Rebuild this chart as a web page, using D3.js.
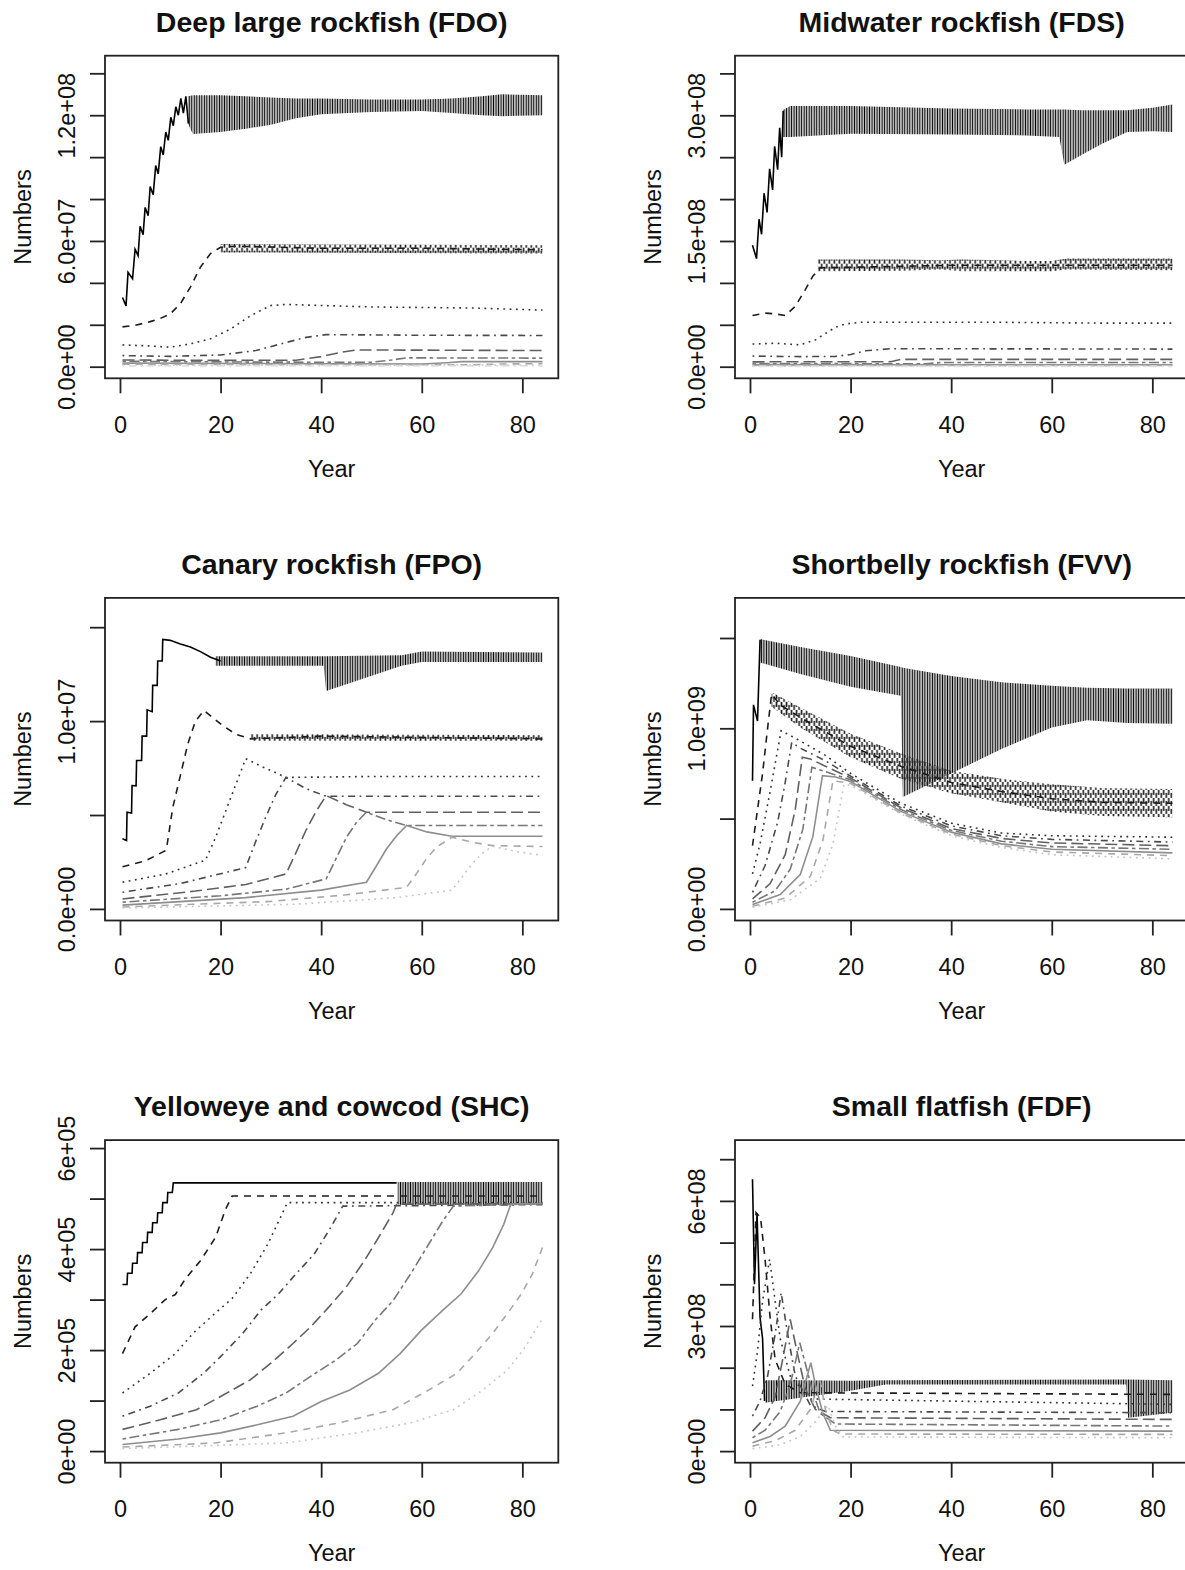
<!DOCTYPE html>
<html>
<head>
<meta charset="utf-8">
<script src="https://cdn.jsdelivr.net/npm/d3@7"></script>
<style>
  body { margin: 0; background: #fff; }
  svg { display: block; }
  svg text { font-family: "Liberation Sans", Arial, sans-serif; fill: #111; }
</style>
</head>
<body>
<svg id="chart"></svg>
<script>
// ---- data ---------------------------------------------------------------
// every line is one age class, [year, value]; bands are [year, low, high]
// for the stretches where a line zigzags every year
var xTicks = [0, 20, 40, 60, 80];
var xLimits = [-2.98, 87.15];

// Deep large rockfish (FDO), values in 1e6
var fdoTicks = [0, 2e7, 4e7, 6e7, 8e7, 1e8, 1.2e8, 1.4e8];
var fdoTickText = ["0.0e+00", "", "", "6.0e+07", "", "", "1.2e+08", ""];
var fdoLines = [
  [[0.5,33],[1.2,29],[1.6,45],[2.5,42],[3.0,56],[3.6,53],[4.0,67],[4.6,63],[5.0,76],[5.6,72],[6.0,86],[6.6,82],[7.1,96],[7.6,92],[8.1,105],[8.6,101],[9.1,112],[9.6,108],[10.1,119],[10.6,115],[11.1,124],[11.6,120],[12.1,128],[12.6,121],[13.1,129],[13.6,116]],
  [[0.5,19],[3,19.7],[6,21.5],[8,23],[10,25.2],[12,30],[14,38],[16,47.5],[18,54],[20,57],[23,57.5],[40,56.5],[60,56.5],[84,55.8]],
  [[0.5,10.4],[5,10],[10,9.3],[14,10.9],[18,13.3],[22,18],[26,24.4],[30,29.2],[33,29.7],[50,28.5],[70,28],[84,27]],
  [[0.5,5.3],[10,4.9],[20,5.6],[27,7.7],[32,10.9],[37,14],[41,15.3],[60,15],[84,14.9]],
  [[0.5,3.2],[20,3],[35,3.1],[40,4.8],[44,6.9],[47,8],[84,7.7]],
  [[0.5,2.6],[25,2.2],[50,2.1],[54,3.2],[57,4.2],[84,4.1]],
  [[0.5,1.7],[60,1.3],[65,1.9],[68,2.4],[84,2.4]],
  [[0.5,1.2],[70,0.9],[76,1.3],[84,1.4]],
  [[0.5,0.7],[84,0.8]],
  [[0.5,0.4],[84,0.4]]
];
var fdoBands = [
  [0, [[13.5,116,129],[14.5,111,129.5],[20,112,129.5],[25,113.5,129],[30,115.5,128.5],[35,118.5,128],[40,120.5,128],[50,121.5,127.5],[60,122,127.5],[66,121,128],[72,120,129],[76,119.5,130],[84,120,129.5]]],
  [1, [[20,54.5,58.5],[84,54,58]]]
];

// Midwater rockfish (FDS), values in 1e6
var fdsTicks = [0, 5e7, 1e8, 1.5e8, 2e8, 2.5e8, 3e8, 3.5e8];
var fdsTickText = ["0.0e+00", "", "", "1.5e+08", "", "", "3.0e+08", ""];
var fdsLines = [
  [[0.5,145],[1.3,129],[1.8,176],[2.3,158],[2.8,207],[3.4,184],[3.9,236],[4.5,211],[4.9,263],[5.5,235],[5.9,285],[6.3,250],[6.6,305]],
  [[0.5,61],[3,64],[5,63],[7,61],[9,72],[11,92],[12.5,108],[14,118],[40,121],[84,121]],
  [[0.5,27],[5,28],[10,26],[13,32],[15,39.6],[17,47],[19,51],[22,53],[50,53],[70,52],[84,52]],
  [[0.5,12.7],[10,12],[17,12.3],[20,14.6],[23,19],[28,21.5],[84,21]],
  [[0.5,5.8],[28,6],[30,8.8],[84,8.8]],
  [[0.5,3.8],[35,3.5],[38,5],[84,5]],
  [[0.5,2.5],[84,2.3]],
  [[0.5,1.5],[84,1.5]],
  [[0.5,0.8],[84,0.8]],
  [[0.5,0.4],[84,0.4]]
];
var fdsBands = [
  [0, [[6.5,274,306],[8,274,311],[20,278,311],[40,277,308],[55,276,307],[61.5,274,307],[62.5,241,307],[66,253,306],[70,266,306],[75,280,306],[80,281,309],[84,280,313]]],
  [1, [[13.5,114,128],[30,114.5,128],[38,116,127],[42,114,128],[50,114,127],[55,114,126],[60,114,126],[63,116,129],[84,115,129]]]
];

// Canary rockfish (FPO), values in 1e6
var fpoTicks = [0, 5e6, 1e7, 1.5e7];
var fpoTickText = ["0.0e+00", "", "1.0e+07", ""];
var fpoLines = [
  [[0.5,3.73],[1.3,3.64],[1.4,5.15],[2.3,5.1],[2.4,6.57],[3.2,6.55],[3.3,7.9],[4.3,7.9],[4.4,9.2],[5.3,9.2],[5.4,10.6],[6.4,10.5],[6.5,11.9],[7.4,11.9],[7.5,13.2],[8.4,13.2],[8.5,14.35],[10,14.3],[12,14.1],[14,13.95],[16,13.7],[18,13.4],[20,13.2]],
  [[0.5,2.25],[5,2.55],[9,3.1],[9.3,3.3],[10.5,5.4],[12,7.1],[13.5,8.8],[15,10],[16.7,10.56],[20,9.85],[23,9.3],[26,9.05],[40,9.2],[84,9.05]],
  [[0.5,1.42],[9,1.85],[17,2.6],[19,3.8],[21,5.2],[23,6.6],[25,8.0],[28,7.6],[30,7.37],[33,7.0],[50,7.05],[84,7.05]],
  [[0.5,0.89],[12,1.35],[25,2.2],[27,3.6],[29,4.9],[31,6.1],[33,7.0],[37,6.4],[41,6.0],[84,6.0]],
  [[0.5,0.53],[15,0.95],[25,1.3],[33,1.86],[35,3.0],[37,4.2],[39,5.2],[41,6.03],[45,5.55],[49,5.15],[84,5.15]],
  [[0.5,0.36],[20,0.7],[33,1.05],[41,1.6],[43,2.7],[45,3.8],[47,4.6],[49,5.15],[53,4.75],[57,4.44],[84,4.44]],
  [[0.5,0.2],[25,0.6],[40,1.0],[49,1.42],[51,2.3],[53,3.2],[55,3.9],[57,4.44],[61,4.1],[66,3.87],[84,3.87]],
  [[0.5,0.1],[30,0.4],[45,0.75],[57,1.15],[59,1.9],[61,2.7],[63,3.3],[66,3.82],[70,3.55],[74,3.37],[84,3.32]],
  [[0.5,0.05],[35,0.25],[55,0.6],[66,1.0],[68,1.7],[70,2.4],[72,2.95],[74,3.34],[79,3.05],[84,2.84]]
];
var fpoBands = [
  [0, [[19,12.95,13.45],[40.5,12.95,13.45],[41,11.6,13.45],[56,12.95,13.5],[60,13.15,13.7],[84,13.15,13.65]]],
  [1, [[26,8.95,9.3],[84,8.95,9.25]]]
];

// Shortbelly rockfish (FVV), values in 1e8
var fvvTicks = [0, 5e8, 1e9, 1.5e9];
var fvvTickText = ["0.0e+00", "", "1.0e+09", ""];
var fvvLines = [
  [[0.5,7.1],[0.7,11.3],[1.5,10.4],[2.0,14.9]],
  [[0.5,3.5],[1.5,5.5],[2.5,7.5],[3.5,10],[4.3,11.9],[6,11.3],[10,10.6],[20,9.0],[30,7.9],[40,7.0],[50,6.5],[60,6.1],[70,5.9],[84,5.85]],
  [[0.5,1.94],[2,3.6],[4,6.5],[6.2,9.87],[10,9.3],[15,8.5],[20,7.5],[30,5.85],[40,4.75],[50,4.2],[60,4.05],[84,3.97]],
  [[0.5,0.92],[3,2.4],[5.5,4.8],[7,7.0],[8.3,9.22],[10,8.9],[15,8.2],[20,7.35],[30,5.7],[40,4.6],[50,4.05],[60,3.85],[84,3.7]],
  [[0.5,0.55],[4,1.4],[7,3.0],[9,5.5],[10.4,8.4],[12,8.3],[15,7.9],[20,7.25],[30,5.6],[40,4.45],[50,3.9],[60,3.65],[84,3.5]],
  [[0.5,0.37],[5,1.0],[8,2.2],[10.5,4.4],[12.3,7.84],[15,7.6],[20,7.15],[30,5.5],[40,4.35],[50,3.75],[60,3.45],[84,3.3]],
  [[0.5,0.24],[6,0.8],[10,1.9],[12.5,4.0],[14.4,7.38],[17,7.3],[20,7.05],[30,5.4],[40,4.25],[50,3.6],[60,3.3],[84,3.1]],
  [[0.5,0.15],[7,0.6],[12,1.8],[14.5,3.8],[16.5,7.1],[20,6.95],[30,5.3],[40,4.15],[50,3.5],[60,3.15],[84,2.95]],
  [[0.5,0.09],[8,0.5],[14,1.7],[16.5,3.6],[18.7,6.9],[20,6.85],[30,5.25],[40,4.05],[50,3.4],[60,3.0],[84,2.77]]
];
var fvvBands = [
  [0, [[2,13.65,14.94],[10,13.0,14.5],[20,12.3,14.0],[30,11.8,13.4],[30.4,6.2,13.35],[40,7.5,12.9],[50,8.85,12.55],[60,10.05,12.35],[67,10.45,12.25],[75,10.3,12.2],[84,10.25,12.2]]],
  [1, [[4.3,11.2,12.0],[10,10.05,11.15],[20,8.4,9.7],[30,7.2,8.6],[40,6.4,7.65],[50,5.9,7.2],[60,5.4,6.9],[70,5.15,6.7],[84,5.07,6.64]]]
];

// Yelloweye and cowcod (SHC), values in 1e5
var shcTicks = [0, 1e5, 2e5, 3e5, 4e5, 5e5, 6e5];
var shcTickText = ["0e+00", "", "2e+05", "", "4e+05", "", "6e+05"];
var shcLines = [
  [[0.5,3.30],[1.4,3.30],[1.5,3.52],[2.4,3.52],[2.5,3.72],[3.4,3.72],[3.5,3.93],[4.4,3.93],[4.5,4.13],[5.4,4.13],[5.5,4.33],[6.4,4.33],[6.5,4.52],[7.4,4.52],[7.5,4.72],[8.4,4.72],[8.5,4.92],[9.4,4.92],[9.5,5.12],[10.4,5.12],[10.6,5.31],[55,5.31]],
  [[0.5,1.93],[3,2.46],[6,2.72],[9,3.0],[11,3.1],[13,3.41],[16,3.77],[19,4.23],[21,4.79],[22.3,5.05],[84,5.05]],
  [[0.5,1.15],[6,1.54],[11,1.93],[14.5,2.33],[18.8,2.72],[22.3,3.02],[25.9,3.51],[29.4,4.1],[32.2,4.69],[33.3,4.92],[84,4.92]],
  [[0.5,0.69],[6,0.89],[11.6,1.15],[16.6,1.54],[20,1.87],[24.4,2.33],[28,2.79],[31.5,3.11],[35,3.51],[38.6,3.9],[41.5,4.36],[44.3,4.85],[84,4.88]],
  [[0.5,0.43],[8,0.62],[15.2,0.82],[20,1.08],[25.9,1.41],[30,1.74],[34.4,2.13],[37.9,2.46],[41.5,2.85],[45,3.25],[48.6,3.77],[51.4,4.23],[54.3,4.72],[55,4.89],[84,4.9]],
  [[0.5,0.24],[11.6,0.43],[20,0.62],[27.3,0.89],[33,1.15],[37.9,1.48],[42.9,1.8],[47.2,2.13],[50.7,2.59],[54.3,2.98],[57.8,3.51],[61.4,4.1],[64.2,4.56],[66.3,4.85],[84,4.9]],
  [[0.5,0.13],[11.6,0.24],[20,0.36],[27.3,0.52],[34.4,0.69],[40,0.98],[45.7,1.21],[51.4,1.54],[55.7,1.93],[59.9,2.39],[64.2,2.79],[67.8,3.11],[71.3,3.57],[74.1,4.03],[76.3,4.49],[77.7,4.89],[84,4.9]],
  [[0.5,0.08],[18.8,0.16],[33,0.36],[43.6,0.56],[54.3,0.82],[61.4,1.21],[67,1.54],[70.6,1.93],[74.1,2.33],[77,2.72],[79.8,3.11],[82,3.51],[84,4.03]],
  [[0.5,0.05],[33,0.16],[47,0.36],[57.8,0.56],[66.3,0.82],[72,1.2],[77,1.6],[80.5,2.05],[84,2.62]]
];
var shcBands = [
  [0, [[55.2,4.88,5.33],[84,4.88,5.33]]]
];

// Small flatfish (FDF), values in 1e8
var fdfTicks = [0, 1e8, 2e8, 3e8, 4e8, 5e8, 6e8, 7e8];
var fdfTickText = ["0e+00", "", "", "3e+08", "", "", "6e+08", ""];
var fdfLines = [
  [[0.5,6.52],[0.9,4.0],[1.4,5.7],[2.0,3.2],[2.5,2.7],[2.9,1.2]],
  [[0.5,3.16],[1.2,5.72],[2.1,5.6],[3,4.6],[4,3.2],[5,2.2],[7,1.6],[10,1.4],[84,1.36]],
  [[0.5,1.56],[1.5,2.4],[2.5,3.6],[3.9,4.6],[5,3.6],[6,2.7],[8,1.8],[12,1.25],[84,1.12]],
  [[0.5,0.84],[2,1.2],[3.5,1.8],[5,2.8],[6.2,3.8],[7.5,2.8],[9,1.8],[12,1.1],[15,0.95],[84,0.92]],
  [[0.5,0.48],[3,0.8],[5,1.3],[6.5,2.2],[8,3.16],[9.5,2.3],[11,1.5],[13,1.0],[16,0.8],[84,0.76]],
  [[0.5,0.32],[3,0.5],[6,0.95],[8,1.6],[9.9,2.6],[11,2.1],[12.5,1.4],[14,0.9],[17,0.65],[84,0.6]],
  [[0.5,0.2],[4,0.35],[7,0.6],[10,1.2],[12.1,2.12],[13,1.6],[14.5,0.9],[16,0.5],[84,0.48]],
  [[0.5,0.12],[5,0.25],[9,0.5],[12,1.0],[13.9,1.72],[15,1.0],[16.5,0.5],[18,0.41],[84,0.4]],
  [[0.5,0.06],[6,0.15],[10,0.35],[13,0.7],[15.5,1.1],[17,0.6],[18.5,0.34],[84,0.32]]
];
var fdfBands = [
  [0, [[3,1.16,1.7],[10,1.28,1.7],[20,1.45,1.69],[27,1.6,1.7],[74.8,1.6,1.72],[75.2,0.8,1.72],[84,0.92,1.7]]]
];

var panels = [
  {title: "Deep large rockfish (FDO)", unit: 1e6, ylim: [-5.54e6, 1.484e8], ticks: fdoTicks, tickText: fdoTickText, lines: fdoLines, bands: fdoBands},
  {title: "Midwater rockfish (FDS)", unit: 1e6, ylim: [-1.384e7, 3.711e8], ticks: fdsTicks, tickText: fdsTickText, lines: fdsLines, bands: fdsBands},
  {title: "Canary rockfish (FPO)", unit: 1e6, ylim: [-0.617e6, 1.656e7], ticks: fpoTicks, tickText: fpoTickText, lines: fpoLines, bands: fpoBands},
  {title: "Shortbelly rockfish (FVV)", unit: 1e8, ylim: [-6.42e7, 1.722e9], ticks: fvvTicks, tickText: fvvTickText, lines: fvvLines, bands: fvvBands},
  {title: "Yelloweye and cowcod (SHC)", unit: 1e5, ylim: [-2.3e4, 6.158e5], ticks: shcTicks, tickText: shcTickText, lines: shcLines, bands: shcBands},
  {title: "Small flatfish (FDF)", unit: 1e8, ylim: [-2.78e7, 7.458e8], ticks: fdfTicks, tickText: fdfTickText, lines: fdfLines, bands: fdfBands}
];

// ---- layout ---------------------------------------------------------------
var W = 1185, H = 1570;
var cellW = 630, cellH = 542.2;
var margin = {top: 55.7, right: 71.7, bottom: 163.9, left: 105};
var plotW = cellW - margin.left - margin.right;
var plotH = cellH - margin.top - margin.bottom;

// matplot style: grey ramp + lty 1..6
var greys = ["#000000", "#1c1c1c", "#333333", "#4a4a4a", "#606060", "#777777", "#8e8e8e", "#a8a8a8", "#c4c4c4", "#dedede"];
var dashes = [null, "7,6", "1.8,4.5", "1.8,4.5,7,4.5", "12,5", "3.5,3.5,10,3.5"];

var svg = d3.select("#chart").attr("width", W).attr("height", H);
var defs = svg.append("defs");

var x = d3.scaleLinear().domain(xLimits).range([0, plotW]);
var yearPx = x(1) - x(0);

// hatch used to show the yearly zigzag inside a band
greys.forEach(function(c, i) {
  var solid = (i % 6) === 0;
  var pat = defs.append("pattern")
    .attr("id", "zz" + i)
    .attr("patternUnits", "userSpaceOnUse")
    .attr("width", solid ? yearPx / 2 : yearPx)
    .attr("height", solid ? 10 : 8);
  if (solid) {
    pat.append("line").attr("x1", yearPx / 4).attr("x2", yearPx / 4)
      .attr("y1", 0).attr("y2", 10)
      .attr("stroke", c).attr("stroke-width", 1.3);
  } else {
    pat.append("line").attr("x1", yearPx / 4).attr("x2", yearPx / 4)
      .attr("y1", 0).attr("y2", 5).attr("stroke", c).attr("stroke-width", 1.6);
    pat.append("line").attr("x1", yearPx * 3 / 4).attr("x2", yearPx * 3 / 4)
      .attr("y1", 3).attr("y2", 8).attr("stroke", c).attr("stroke-width", 1.6);
  }
});

panels.forEach(function(p, k) {
  var col = k % 2, row = Math.floor(k / 2);
  var g = svg.append("g")
    .attr("transform", `translate(${col * cellW + margin.left}, ${row * cellH + margin.top})`);

  var y = d3.scaleLinear().domain(p.ylim).range([plotH, 0]);

  defs.append("clipPath").attr("id", "clip" + k)
    .append("rect").attr("width", plotW).attr("height", plotH);

  var plot = g.append("g").attr("clip-path", `url(#clip${k})`);

  var line = d3.line().x(d => x(d[0])).y(d => y(d[1] * p.unit));
  var area = d3.area().x(d => x(d[0])).y0(d => y(d[1] * p.unit)).y1(d => y(d[2] * p.unit));

  p.lines.forEach(function(pts, i) {
    p.bands.filter(b => b[0] === i).forEach(function(b) {
      plot.append("path").datum(b[1])
        .attr("d", area)
        .attr("fill", `url(#zz${i})`);
    });
    plot.append("path").datum(pts)
      .attr("d", line)
      .attr("fill", "none")
      .attr("stroke", greys[i])
      .attr("stroke-width", 1.6)
      .attr("stroke-dasharray", dashes[i % 6]);
  });

  // box
  g.append("rect")
    .attr("width", plotW).attr("height", plotH)
    .attr("fill", "none").attr("stroke", "#222").attr("stroke-width", 1.8);

  var xAxis = d3.axisBottom(x).tickValues(xTicks).tickSize(15).tickPadding(23).tickSizeOuter(0);
  var gx = g.append("g").attr("transform", `translate(0,${plotH})`).call(xAxis);
  gx.select(".domain").remove();
  gx.selectAll("line").attr("stroke", "#222").attr("stroke-width", 1.8);
  gx.selectAll("text").style("font-size", "23.5px").attr("fill", "#111");

  var yAxis = d3.axisLeft(y).tickValues(p.ticks).tickSize(15).tickFormat((d, i) => p.tickText[i]);
  var gy = g.append("g").call(yAxis);
  gy.select(".domain").remove();
  gy.selectAll("line").attr("stroke", "#222").attr("stroke-width", 1.8);
  gy.selectAll("text")
    .attr("transform", "rotate(-90)")
    .attr("x", 0).attr("y", -30).attr("dy", 0)
    .style("text-anchor", "middle")
    .style("font-size", "23.5px").attr("fill", "#111");

  g.append("text")
    .attr("x", plotW / 2).attr("y", 32 - margin.top)
    .attr("text-anchor", "middle")
    .style("font-size", "28.5px").style("font-weight", "bold")
    .text(p.title);

  g.append("text")
    .attr("x", plotW / 2).attr("y", 477 - margin.top)
    .attr("text-anchor", "middle")
    .style("font-size", "23.5px")
    .text("Year");

  g.append("text")
    .attr("transform", `translate(${30.5 - margin.left},${plotH / 2}) rotate(-90)`)
    .attr("text-anchor", "middle")
    .style("font-size", "23.5px")
    .text("Numbers");
});
</script>
</body>
</html>
